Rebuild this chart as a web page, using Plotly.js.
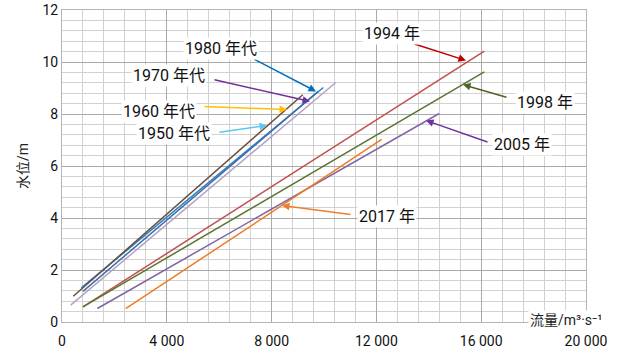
<!DOCTYPE html>
<html><head><meta charset="utf-8">
<script src="https://cdn.plot.ly/plotly-3.0.1.min.js"></script>
<style>html,body{margin:0;padding:0;background:#fff}</style>
</head><body><div id="chart" style="width:620px;height:351px"></div>
<script>
// Data: each rating line as start/end points (discharge m3/s, stage m)
const q1950 = [330, 10450],  h1950 = [0.65, 9.21];
const q1960 = [430, 9190],   h1960 = [0.99, 8.74];
const q1970 = [800, 9790],   h1970 = [1.18, 8.88];
const q1980 = [737, 9975],   h1980 = [1.31, 9.02];
const q1994 = [800, 16120],  h1994 = [0.58, 10.42];
const q1998 = [800, 16120],  h1998 = [0.58, 9.62];
const q2005 = [1350, 14400], h2005 = [0.52, 8.02];
const q2017 = [2430, 12200], h2017 = [0.51, 7.02];
const xTickVals = [0, 4000, 8000, 12000, 16000, 20000];
const xTickText = ['0', '4 000', '8 000', '12 000', '16 000', '20 000'];
const yTickVals = [0, 2, 4, 6, 8, 10, 12];
const yTickText = ['0', '2', '4', '6', '8', '10', '12'];
const labels = ['1950 年代', '1960 年代', '1970 年代', '1980 年代', '1994 年', '1998 年', '2005 年', '2017 年'];

const font = 'Roboto, "Noto Sans CJK SC", sans-serif';
function line(x, y, color) {
  return {x: x, y: y, type: 'scatter', mode: 'lines', line: {color: color, width: 1.5}, hoverinfo: 'skip', showlegend: false};
}
const data = [
  line(q1994, h1994, '#c0504d'),
  line(q1998, h1998, '#5a7532'),
  line(q2005, h2005, '#8064a2'),
  line(q2017, h2017, '#f07b21'),
  line(q1950, h1950, '#b3a2c7'),
  line(q1980, h1980, '#2f80c6'),
  line(q1970, h1970, '#3e6ea8'),
  line(q1960, h1960, '#6d4c3d')
];

// label positions (text centre), arrow tail and tip in data coords
const ann = [
  {t: labels[3], tx: 6069, ty: 10.52, ax: 7290, ay: 10.13, x: 9695, y: 8.87, c: '#0070c0'},
  {t: labels[2], tx: 4084, ty: 9.48, ax: 5763, ay: 9.33, x: 9466, y: 8.48, c: '#7030a0'},
  {t: labels[1], tx: 3702, ty: 8.10, ax: 5382, ay: 8.29, x: 8588, y: 8.17, c: '#ffc000'},
  {t: labels[0], tx: 4275, ty: 7.25, ax: 5954, ay: 7.29, x: 7824, y: 7.56, c: '#5bc8f0'},
  {t: labels[4], tx: 12595, ty: 11.10, ax: 13397, ay: 10.71, x: 15420, y: 10.06, c: '#c00000'},
  {t: labels[5], tx: 18435, ty: 8.44, ax: 17023, ay: 8.63, x: 15305, y: 9.13, c: '#4f6228'},
  {t: labels[6], tx: 17557, ty: 6.83, ax: 16298, ay: 6.90, x: 13893, y: 7.75, c: '#7030a0'},
  {t: labels[7], tx: 12405, ty: 4.06, ax: 11069, ay: 4.13, x: 8397, y: 4.48, c: '#ed7d31'}
];
const annotations = [];
ann.forEach(a => {
  annotations.push({x: a.x, y: a.y, ax: a.ax, ay: a.ay, xref: 'x', yref: 'y', axref: 'x', ayref: 'y',
    text: '', showarrow: true, arrowhead: 2, arrowsize: 1, arrowwidth: 1.5, arrowcolor: a.c});
  annotations.push({x: a.tx, y: a.ty, xref: 'x', yref: 'y', text: a.t, showarrow: false,
    bgcolor: '#fff', font: {family: font, size: 16, color: '#111'}, borderpad: 1});
});
annotations.push({x: 1.035, y: 0.005, xref: 'paper', yref: 'paper', xanchor: 'right', yanchor: 'middle',
  text: '流量/m³·s⁻¹', showarrow: false, bgcolor: '#fff', font: {family: font, size: 14, color: '#222'}});

const layout = {
  width: 620, height: 351,
  margin: {l: 62, r: 34, t: 10, b: 29},
  paper_bgcolor: '#fff', plot_bgcolor: '#fff',
  font: {family: font, size: 14, color: '#111'},
  xaxis: {range: [0, 20000], tickvals: xTickVals, ticktext: xTickText, showgrid: true,
    gridcolor: '#a9a9a9', gridwidth: 1, zeroline: false, showline: true, linecolor: '#b5b5b5', mirror: true,
    ticks: '', tickfont: {size: 14}, ticklabelstandoff: 6,
    minor: {dtick: 800, showgrid: true, gridcolor: '#d2d2d2', gridwidth: 1}},
  yaxis: {range: [0, 12], tickvals: yTickVals, ticktext: yTickText, showgrid: true,
    gridcolor: '#a9a9a9', gridwidth: 1, zeroline: false, showline: true, linecolor: '#b5b5b5', mirror: true,
    ticks: '', tickfont: {size: 14}, title: {text: '水位/m', font: {size: 14, color: '#222'}, standoff: 10},
    minor: {dtick: 0.4, showgrid: true, gridcolor: '#d2d2d2', gridwidth: 1}},
  annotations: annotations
};
Plotly.newPlot('chart', data, layout, {staticPlot: true, displayModeBar: false});
</script></body></html>
